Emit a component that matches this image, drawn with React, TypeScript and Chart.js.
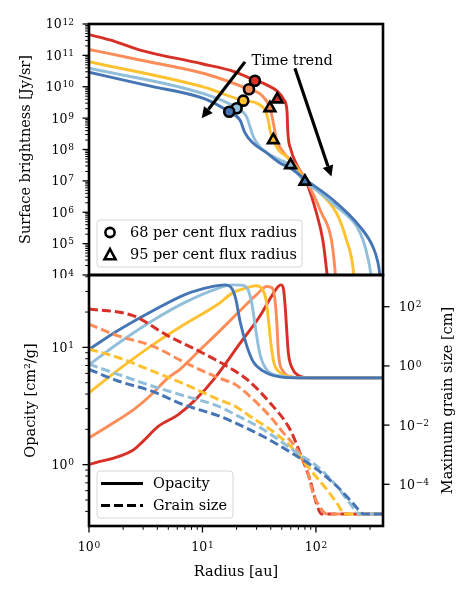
import React, { useEffect, useRef } from 'react';
import { Chart, registerables } from 'chart.js';
Chart.register(...registerables);

const FONT = "'DejaVu Serif', serif";
const TICK_BASE = 12.5;
const TICK_SUP = 9;
const LABEL_SIZE = 14.5;
// model colours, red (earliest) to blue (latest)
const COLORS = ['#d73027', '#fc8d59', '#fec12f', '#91bfdb', '#4575b4'];

// ---------- top panel: surface brightness [Jy/sr] vs radius [au] ----------
const RED_SB_R = [1, 1.53, 2.81, 9.9, 19.3, 29.0, 36.8, 46.3, 52.3, 55.5, 56.6, 60.2, 66.6, 82.8, 101, 115, 124, 128];
const RED_SB = [4.6e11, 3.1e11, 1.48e11, 5.4e10, 3.0e10, 1.6e10, 1.15e10, 6.9e9, 3.8e9, 1.8e9, 3.4e8, 9.8e7, 3.7e7, 8.7e6, 9.5e5, 1.3e5, 1.5e4, 5e3];
const ORANGE_SB_R = [1, 2.81, 10.5, 25.7, 33.0, 39.3, 42.1, 45.1, 49.9, 59.0, 67.6, 81.6, 112, 137, 147, 150];
const ORANGE_SB = [1.55e11, 7.1e10, 2.6e10, 8.3e9, 5.5e9, 2.1e9, 7.1e8, 2.0e8, 9.8e7, 4.7e7, 2.9e7, 1.07e7, 9.5e5, 1.3e5, 1.5e4, 5e3];
const YELLOW_SB_R = [1, 10.5, 22.9, 30.0, 35.5, 38.0, 39.3, 42.1, 46.5, 55.2, 63.1, 76.8, 94.1, 152, 186, 213, 218];
const YELLOW_SB = [6.3e10, 9.5e9, 3.6e9, 3.0e9, 1.8e9, 8.7e8, 4.2e8, 2.0e8, 9.8e7, 5.9e7, 3.6e7, 1.37e7, 6.6e6, 9.3e5, 1.3e5, 1.5e4, 5e3];
const LBLUE_SB_R = [1, 10.5, 20.0, 24.5, 26.2, 28.0, 32.1, 39.3, 48.2, 59.8, 76.8, 108, 152, 229, 260, 287, 305, 310];
const LBLUE_SB = [3.9e10, 5.8e9, 2.1e9, 1.1e9, 5.4e8, 2.6e8, 1.2e8, 6.8e7, 4.7e7, 3.2e7, 1.07e7, 4.2e6, 1.5e6, 3.5e5, 1.3e5, 3.5e4, 1e4, 5e3];
const BLUE_SB_R = [1, 3.24, 10.5, 17.1, 21.4, 23.7, 27.9, 36.8, 48.2, 59.0, 81.6, 141, 244, 318, 352, 366, 372];
const BLUE_SB = [2.9e10, 1.1e10, 4.1e9, 1.6e9, 8.7e8, 3.4e8, 1.6e8, 7.8e7, 3.7e7, 2.6e7, 1.07e7, 2.5e6, 3.5e5, 7.9e4, 2.5e4, 1e4, 5e3];

// 68 per cent (circles) and 95 per cent (triangles) flux radii, red..blue
const R68 = [29.0, 25.7, 22.9, 20.0, 17.2];
const S68 = [1.56e10, 8.3e9, 3.6e9, 2.07e9, 1.6e9];
const R95 = [45.6, 39.3, 42.1, 59.8, 80];
const S95 = [4.0e9, 2.1e9, 2.0e8, 3.2e7, 9.5e6];

// "Time trend" arrows and label (data coordinates)
const ARROW_START_R = [23.7, 65.3];
const ARROW_START_S = [6.2e10, 3.9e10];
const ARROW_END_R = [9.84, 137];
const ARROW_END_S = [9.9e8, 1.37e7];
const TREND_R = 27.1;
const TREND_S = 6.6e10;

// ---------- bottom panel: opacity [cm^2/g] (solid) ----------
const RED_K_R = [1, 2.44, 2.99, 4.05, 6.08, 8.59, 12.9, 21.4, 32.1, 41.0, 46.3, 49.2, 51.7, 53.8, 55.5, 57.2, 61.5, 69.4, 88.5, 400];
const RED_K = [1.0, 1.33, 1.58, 2.11, 2.66, 3.55, 5.5, 10.8, 18.5, 27.7, 32.9, 34.1, 31.6, 21.1, 13.1, 8.9, 6.7, 5.8, 5.5, 5.5];
const ORANGE_K_R = [1, 1.80, 2.54, 3.59, 4.97, 6.34, 9.5, 14.3, 21.4, 30.0, 36.8, 41.0, 43.5, 45.3, 46.7, 51.2, 61.5, 72.2, 400];
const ORANGE_K = [1.69, 2.40, 3.0, 4.0, 5.5, 6.5, 9.5, 13.9, 20.5, 28.2, 33.0, 32.2, 25.6, 15.8, 8.9, 6.3, 5.6, 5.5, 5.5];
const YELLOW_K_R = [1, 1.80, 3.59, 7.01, 13.7, 18.6, 24.7, 29.6, 33.4, 36.3, 38.1, 40.1, 42.6, 48.2, 59.0, 72.2, 400];
const YELLOW_K = [4.1, 6.4, 10.4, 15.8, 23.3, 29.3, 32.2, 33.5, 31.6, 25.6, 17.4, 10.8, 7.4, 6.1, 5.6, 5.5, 5.5];
const LBLUE_K_R = [1, 1.80, 3.59, 7.01, 13.7, 18.2, 22.7, 25.2, 27.3, 29.0, 30.8, 32.8, 37.0, 48.2, 72.2, 400];
const LBLUE_K = [7.1, 10.8, 16.8, 24.2, 31.9, 34.1, 33.8, 31.0, 23.3, 15.8, 10.8, 8.1, 6.4, 5.7, 5.5, 5.5];
const BLUE_K_R = [1, 1.80, 3.59, 7.01, 12.1, 15.8, 18.2, 19.7, 21.4, 24.5, 27.9, 34.1, 48.2, 72.2, 400];
const BLUE_K = [9.6, 13.9, 20.3, 28.2, 32.9, 34.1, 31.6, 25.6, 16.8, 10.4, 7.6, 6.3, 5.6, 5.5, 5.5];

// ---------- bottom panel: maximum grain size [cm] (dashed) ----------
const RED_A_R = [1, 2.44, 4.97, 9.84, 19.3, 24.7, 39.3, 59.0, 72.2, 88.5, 101, 112, 400];
const RED_A = [84, 50, 10.4, 2.85, 0.68, 0.35, 0.057, 0.0072, 1.16e-3, 1.44e-4, 2.3e-5, 1e-5, 1e-5];
const ORANGE_A_R = [1, 1.80, 3.59, 7.01, 13.7, 19.3, 26.2, 39.3, 51.2, 68.1, 83.4, 94.1, 108, 125, 400];
const ORANGE_A = [25.9, 10.4, 4.76, 1.30, 0.40, 0.24, 0.094, 0.020, 5.7e-3, 1.5e-3, 3.2e-4, 5.2e-5, 1.75e-5, 1e-5, 1e-5];
const YELLOW_A_R = [1, 1.80, 3.59, 7.01, 13.7, 19.3, 26.2, 39.3, 55.5, 72.2, 94.1, 125, 153, 180, 400];
const YELLOW_A = [3.68, 1.93, 0.68, 0.24, 0.074, 0.044, 0.020, 7.2e-3, 2.5e-3, 8.9e-4, 2.4e-4, 6.6e-5, 2.3e-5, 1e-5, 1e-5];
const LBLUE_A_R = [1, 1.80, 3.59, 7.01, 13.7, 19.3, 34.1, 68.1, 102, 153, 199, 244, 400];
const LBLUE_A = [1.14, 0.52, 0.21, 0.096, 0.044, 0.023, 7.2e-3, 1.16e-3, 4.1e-4, 8.6e-5, 2.3e-5, 1e-5, 1e-5];
const BLUE_A_R = [1, 1.80, 3.59, 7.01, 13.7, 19.3, 34.1, 68.1, 102, 153, 212, 265, 400];
const BLUE_A = [0.77, 0.31, 0.14, 0.047, 0.021, 0.012, 4.2e-3, 8.9e-4, 3.2e-4, 8.6e-5, 2.3e-5, 1e-5, 1e-5];

// ---------- axes ----------
const X_MIN = 1, X_MAX = 390;
const SB_MIN = 1e4, SB_MAX = 1e12;
const K_MIN = 0.335, K_MAX = 41.4;
const A_MIN = 3.9e-6, A_MAX = 1.18e3;
const X_TICKS = [1, 10, 100];
const X_TICK_LABELS = ['10^0', '10^1', '10^2'];
const SB_TICKS = [1e4, 1e5, 1e6, 1e7, 1e8, 1e9, 1e10, 1e11, 1e12];
const SB_TICK_LABELS = ['10^4', '10^5', '10^6', '10^7', '10^8', '10^9', '10^10', '10^11', '10^12'];
const K_TICKS = [1, 10];
const K_TICK_LABELS = ['10^0', '10^1'];
const A_TICKS = [1e-4, 1e-2, 1, 1e2];
const A_TICK_LABELS = ['10^−4', '10^−2', '10^0', '10^2'];

function logMinors(lo: number, hi: number) {
  const out: number[] = [];
  for (let e = Math.floor(Math.log10(lo)); e <= Math.ceil(Math.log10(hi)); e++) {
    for (let m = 2; m <= 9; m++) {
      const v = m * Math.pow(10, e);
      if (v >= lo && v <= hi) out.push(v);
    }
  }
  return out;
}

const pts = (xs: number[], ys: number[]) => xs.map((x, i) => ({ x, y: ys[i] }));

function drawFrame(chart: any) {
  const { ctx, chartArea: a } = chart;
  ctx.save();
  ctx.strokeStyle = '#000';
  ctx.lineWidth = 2.6;
  ctx.strokeRect(a.left, a.top, a.right - a.left, a.bottom - a.top);
  ctx.restore();
}

function drawTicks(chart: any, id: string, side: string, majors: number[], minors: number[]) {
  const { ctx, chartArea: a } = chart;
  const s = chart.scales[id];
  ctx.save();
  ctx.strokeStyle = '#000';
  const one = (v: number, len: number, w: number) => {
    const p = s.getPixelForValue(v);
    if (side === 'bottom' ? (p < a.left - 0.5 || p > a.right + 0.5) : (p < a.top - 0.5 || p > a.bottom + 0.5)) return;
    ctx.lineWidth = w;
    ctx.beginPath();
    if (side === 'left') { ctx.moveTo(a.left, p); ctx.lineTo(a.left - len, p); }
    else if (side === 'right') { ctx.moveTo(a.right, p); ctx.lineTo(a.right + len, p); }
    else { ctx.moveTo(p, a.bottom); ctx.lineTo(p, a.bottom + len); }
    ctx.stroke();
  };
  majors.forEach((v) => one(v, 6.5, 1.3));
  minors.forEach((v) => one(v, 3.8, 1));
  ctx.restore();
}

// "10^n" label drawn with a raised, smaller exponent; y is the tick pixel (vertical centre of "10")
function supLabel(ctx: CanvasRenderingContext2D, label: string, x: number, y: number, align: string) {
  const [base, exp] = label.split('^');
  ctx.save();
  ctx.fillStyle = '#000';
  ctx.textAlign = 'left';
  ctx.textBaseline = 'alphabetic';
  ctx.font = `${TICK_BASE}px ${FONT}`;
  const wb = ctx.measureText(base).width;
  ctx.font = `${TICK_SUP}px ${FONT}`;
  const we = ctx.measureText(exp).width;
  const w = wb + 0.8 + we;
  const x0 = align === 'right' ? x - w : align === 'left' ? x : x - w / 2;
  ctx.font = `${TICK_BASE}px ${FONT}`;
  ctx.fillText(base, x0, y + 4.4);
  ctx.font = `${TICK_SUP}px ${FONT}`;
  ctx.fillText(exp, x0 + wb + 0.8, y + 0.6);
  ctx.restore();
}

function drawTickLabels(chart: any, id: string, side: string, values: number[], labels: string[]) {
  const { ctx, chartArea: a } = chart;
  const s = chart.scales[id];
  values.forEach((v, i) => {
    const p = s.getPixelForValue(v);
    if (side === 'left') supLabel(ctx, labels[i], a.left - 15, p, 'right');
    else if (side === 'right') supLabel(ctx, labels[i], a.right + 16, p, 'left');
    else supLabel(ctx, labels[i], p, a.bottom + 21, 'center');
  });
}

function arrow(ctx: CanvasRenderingContext2D, x1: number, y1: number, x2: number, y2: number) {
  const ang = Math.atan2(y2 - y1, x2 - x1);
  const hl = 11, hw = 5.5;
  const bx = x2 - hl * Math.cos(ang), by = y2 - hl * Math.sin(ang);
  ctx.beginPath();
  ctx.moveTo(x1, y1);
  ctx.lineTo(bx, by);
  ctx.lineWidth = 3.2;
  ctx.stroke();
  ctx.beginPath();
  ctx.moveTo(x2, y2);
  ctx.lineTo(bx + hw * Math.sin(ang), by - hw * Math.cos(ang));
  ctx.lineTo(bx - hw * Math.sin(ang), by + hw * Math.cos(ang));
  ctx.closePath();
  ctx.fill();
}

function legendBox(ctx: CanvasRenderingContext2D, x: number, y: number, w: number, h: number) {
  ctx.beginPath();
  (ctx as any).roundRect(x, y, w, h, 3);
  ctx.fillStyle = 'rgba(255,255,255,0.85)';
  ctx.fill();
  ctx.strokeStyle = '#d6d6d6';
  ctx.lineWidth = 1;
  ctx.stroke();
}

const lineDs = (xs: number[], ys: number[], color: string, order: number, extra: any = {}) => ({
  data: pts(xs, ys),
  showLine: true,
  borderColor: color,
  backgroundColor: color,
  borderWidth: 2.9,
  pointRadius: 0,
  fill: false,
  cubicInterpolationMode: 'monotone',
  clip: 0,
  order,
  ...extra,
});

const titleFont = { family: FONT, size: LABEL_SIZE };
const fixFit = (w: number | null, h: number | null) => (s: any) => {
  if (w !== null) s.width = w;
  if (h !== null) s.height = h;
  s.paddingTop = 0; s.paddingBottom = 0; s.paddingLeft = 0; s.paddingRight = 0;
};
const hiddenTicks = { display: false };
const noGrid = { display: false, drawTicks: false };

function topConfig(): any {
  const sb = [
    [RED_SB_R, RED_SB], [ORANGE_SB_R, ORANGE_SB], [YELLOW_SB_R, YELLOW_SB],
    [LBLUE_SB_R, LBLUE_SB], [BLUE_SB_R, BLUE_SB],
  ];
  const datasets: any[] = sb.map(([r, s], i) => lineDs(r, s, COLORS[i], 6 - i));
  datasets.push({
    data: pts(R68, S68), showLine: false, pointStyle: 'circle', pointRadius: 5,
    pointBackgroundColor: COLORS, pointBorderColor: '#000', pointBorderWidth: 2.6, clip: false, order: 1,
  });
  datasets.push({
    data: pts(R95, S95), showLine: false, pointStyle: 'triangle', pointRadius: 6.2,
    pointBackgroundColor: COLORS, pointBorderColor: '#000', pointBorderWidth: 2.6, clip: false, order: 0,
  });
  const plugin = {
    id: 'topDecor',
    afterDatasetsDraw(chart: any) {
      drawFrame(chart);
      drawTicks(chart, 'y', 'left', SB_TICKS, logMinors(SB_MIN, SB_MAX));
      drawTickLabels(chart, 'y', 'left', SB_TICKS, SB_TICK_LABELS);
    },
    afterDraw(chart: any) {
      const ctx = chart.ctx as CanvasRenderingContext2D;
      const xs = chart.scales.x, ys = chart.scales.y;
      ctx.save();
      ctx.strokeStyle = '#000';
      ctx.fillStyle = '#000';
      for (let i = 0; i < ARROW_START_R.length; i++) {
        arrow(ctx, xs.getPixelForValue(ARROW_START_R[i]), ys.getPixelForValue(ARROW_START_S[i]),
          xs.getPixelForValue(ARROW_END_R[i]), ys.getPixelForValue(ARROW_END_S[i]));
      }
      ctx.font = `${LABEL_SIZE}px ${FONT}`;
      ctx.textBaseline = 'middle';
      ctx.textAlign = 'left';
      ctx.fillText('Time trend', xs.getPixelForValue(TREND_R), ys.getPixelForValue(TREND_S));
      // legend
      const a = chart.chartArea;
      const lx = a.left + 8, ly = a.bottom - 55;
      legendBox(ctx, lx, ly, 205, 47);
      ctx.lineWidth = 2.6;
      ctx.strokeStyle = '#000';
      ctx.fillStyle = '#fff';
      ctx.beginPath();
      ctx.arc(lx + 13, ly + 12.5, 4.6, 0, Math.PI * 2);
      ctx.fill(); ctx.stroke();
      const tx = lx + 13, ty = ly + 35;
      const r = 6;
      ctx.beginPath();
      ctx.moveTo(tx, ty - r);
      ctx.lineTo(tx + r * 0.92, ty + r * 0.72);
      ctx.lineTo(tx - r * 0.92, ty + r * 0.72);
      ctx.closePath();
      ctx.fill(); ctx.stroke();
      ctx.fillStyle = '#000';
      ctx.fillText('68 per cent flux radius', lx + 33, ly + 13);
      ctx.fillText('95 per cent flux radius', lx + 33, ly + 35);
      ctx.restore();
    },
  };
  return {
    type: 'scatter',
    data: { datasets },
    options: {
      animation: false,
      responsive: false,
      events: [],
      layout: { padding: { left: 0, right: 90, top: 24, bottom: 3 }, autoPadding: false },
      plugins: { legend: { display: false }, tooltip: { enabled: false } },
      scales: {
        x: { type: 'logarithmic', min: X_MIN, max: X_MAX, display: false },
        y: {
          type: 'logarithmic', min: SB_MIN, max: SB_MAX, position: 'left',
          grid: noGrid, border: { display: false },
          afterBuildTicks: (s: any) => { s.ticks = SB_TICKS.map((v) => ({ value: v })); },
          afterFit: fixFit(89, null),
          ticks: hiddenTicks,
          title: { display: true, text: 'Surface brightness [Jy/sr]', color: '#000', font: titleFont, padding: { top: 18, bottom: 0 } },
        },
      },
    },
    plugins: [plugin],
  };
}

function bottomConfig(): any {
  const ks = [
    [RED_K_R, RED_K], [ORANGE_K_R, ORANGE_K], [YELLOW_K_R, YELLOW_K], [LBLUE_K_R, LBLUE_K], [BLUE_K_R, BLUE_K],
  ];
  const as = [
    [RED_A_R, RED_A], [ORANGE_A_R, ORANGE_A], [YELLOW_A_R, YELLOW_A], [LBLUE_A_R, LBLUE_A], [BLUE_A_R, BLUE_A],
  ];
  const datasets: any[] = [];
  ks.forEach(([r, k], i) => datasets.push(lineDs(r, k, COLORS[i], 10 - i, { yAxisID: 'yk' })));
  as.forEach(([r, a], i) => datasets.push(lineDs(r, a, COLORS[i], 5 - i, { yAxisID: 'ya', borderDash: [9, 4], borderWidth: 3 })));
  const plugin = {
    id: 'botDecor',
    afterDatasetsDraw(chart: any) {
      drawFrame(chart);
      drawTicks(chart, 'yk', 'left', K_TICKS, logMinors(K_MIN, K_MAX));
      drawTicks(chart, 'ya', 'right', A_TICKS, []);
      drawTicks(chart, 'x', 'bottom', X_TICKS, logMinors(X_MIN, X_MAX));
      drawTickLabels(chart, 'yk', 'left', K_TICKS, K_TICK_LABELS);
      drawTickLabels(chart, 'ya', 'right', A_TICKS, A_TICK_LABELS);
      drawTickLabels(chart, 'x', 'bottom', X_TICKS, X_TICK_LABELS);
    },
    afterDraw(chart: any) {
      const ctx = chart.ctx as CanvasRenderingContext2D;
      const a = chart.chartArea;
      ctx.save();
      // right axis title, reading bottom to top
      ctx.translate(chart.width - 25, (a.top + a.bottom) / 2);
      ctx.rotate(-Math.PI / 2);
      ctx.font = `${LABEL_SIZE}px ${FONT}`;
      ctx.fillStyle = '#000';
      ctx.textAlign = 'center';
      ctx.textBaseline = 'middle';
      ctx.fillText('Maximum grain size [cm]', 0, 0);
      ctx.restore();
      // legend
      ctx.save();
      const lx = a.left + 8, ly = a.bottom - 55;
      legendBox(ctx, lx, ly, 136, 47);
      ctx.strokeStyle = '#000';
      ctx.lineWidth = 3;
      ctx.beginPath();
      ctx.moveTo(lx + 4, ly + 12.5); ctx.lineTo(lx + 46, ly + 12.5);
      ctx.stroke();
      ctx.setLineDash([9, 4]);
      ctx.beginPath();
      ctx.moveTo(lx + 4, ly + 34.5); ctx.lineTo(lx + 46, ly + 34.5);
      ctx.stroke();
      ctx.setLineDash([]);
      ctx.font = `${LABEL_SIZE}px ${FONT}`;
      ctx.fillStyle = '#000';
      ctx.textAlign = 'left';
      ctx.textBaseline = 'middle';
      ctx.fillText('Opacity', lx + 56, ly + 13);
      ctx.fillText('Grain size', lx + 56, ly + 35);
      ctx.restore();
    },
  };
  return {
    type: 'scatter',
    data: { datasets },
    options: {
      animation: false,
      responsive: false,
      events: [],
      layout: { padding: { left: 0, right: 0, top: 3, bottom: 0 }, autoPadding: false },
      plugins: { legend: { display: false }, tooltip: { enabled: false } },
      scales: {
        x: {
          type: 'logarithmic', min: X_MIN, max: X_MAX, position: 'bottom',
          grid: noGrid, border: { display: false },
          afterBuildTicks: (s: any) => { s.ticks = X_TICKS.map((v) => ({ value: v })); },
          afterFit: fixFit(null, 74),
          ticks: hiddenTicks,
          title: { display: true, text: 'Radius [au]', color: '#000', font: titleFont, padding: { top: 0, bottom: 19.5 } },
        },
        yk: {
          type: 'logarithmic', min: K_MIN, max: K_MAX, position: 'left',
          grid: noGrid, border: { display: false },
          afterBuildTicks: (s: any) => { s.ticks = K_TICKS.map((v) => ({ value: v })); },
          afterFit: fixFit(89, null),
          ticks: hiddenTicks,
          title: { display: true, text: 'Opacity [cm²/g]', color: '#000', font: titleFont, padding: { top: 22.5, bottom: 0 } },
        },
        ya: {
          type: 'logarithmic', min: A_MIN, max: A_MAX, position: 'right',
          grid: noGrid, border: { display: false },
          afterBuildTicks: (s: any) => { s.ticks = A_TICKS.map((v) => ({ value: v })); },
          afterFit: fixFit(90, null),
          ticks: hiddenTicks,
        },
      },
    },
    plugins: [plugin],
  };
}

export default function App() {
  const topRef = useRef<HTMLCanvasElement>(null);
  const botRef = useRef<HTMLCanvasElement>(null);
  useEffect(() => {
    const top = new Chart(topRef.current as HTMLCanvasElement, topConfig());
    const bot = new Chart(botRef.current as HTMLCanvasElement, bottomConfig());
    return () => { top.destroy(); bot.destroy(); };
  }, []);
  return (
    <div style={{ position: 'absolute', left: 0, top: 0, width: 473, height: 600, background: '#fff' }}>
      <canvas ref={topRef} width={473} height={278} style={{ position: 'absolute', left: 0, top: 0 }} />
      <canvas ref={botRef} width={473} height={328} style={{ position: 'absolute', left: 0, top: 272 }} />
    </div>
  );
}
